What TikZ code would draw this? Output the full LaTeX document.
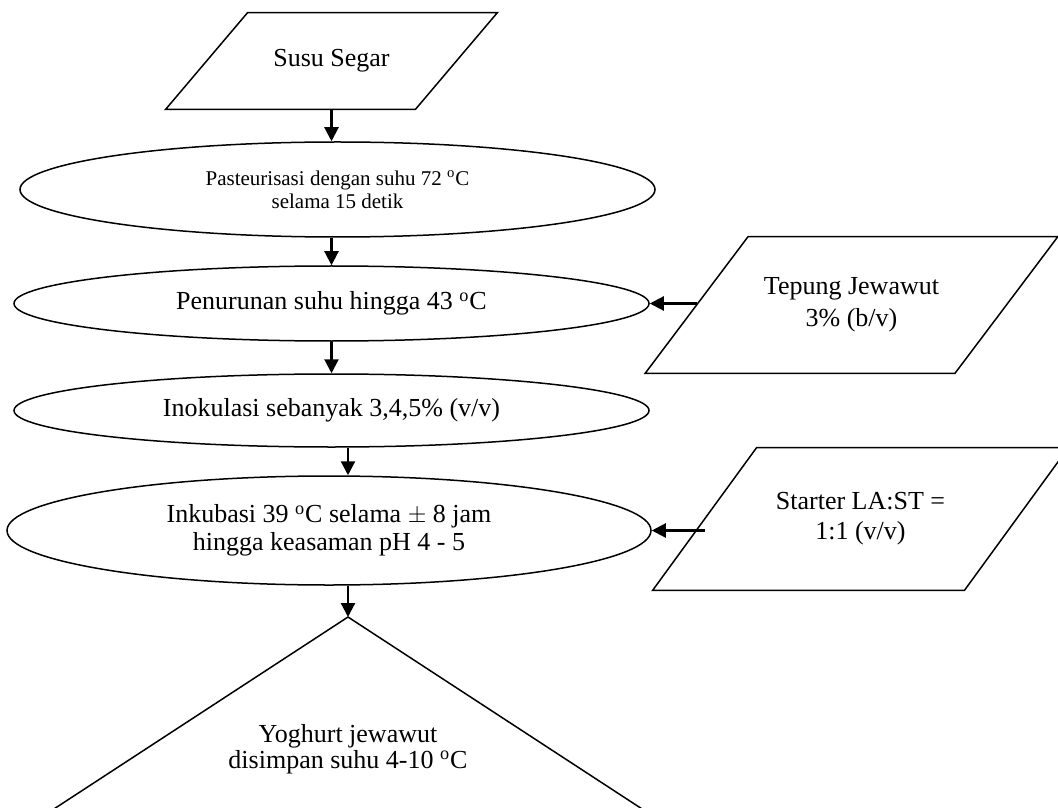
\documentclass[tikz,border=0pt]{standalone}
\usepackage{fontspec}
\setmainfont{Liberation Serif}
\usetikzlibrary{shapes.geometric}
\usetikzlibrary{arrows.meta}
\newcommand{\dC}{\textsuperscript{o}C}

\begin{document}
\begin{tikzpicture}[x=0.5pt, y=-0.5pt, >={Triangle[length=7pt,width=7pt]},
  proses/.style={ellipse, draw, line width=0.75pt, inner sep=0pt, align=center, font=\fontsize{13}{15}\selectfont},
  bahan/.style={rectangle, inner sep=0pt, align=center, font=\fontsize{13}{15}\selectfont},
  garis/.style={line width=0.75pt},
  panah/.style={->, line width=1.1pt}]
\clip (0,0) rectangle (1058,807);
\node[bahan, minimum width=124.5pt, minimum height=48pt] (susu) at (331.5,61) {Susu Segar};
\node[proses, minimum width=317.5pt, minimum height=47.5pt, font=\fontsize{10.5}{11.5}\selectfont] (pasteur) at (337.5,189.5) {Pasteurisasi dengan suhu 72 \dC\\selama 15 detik};
\node[proses, minimum width=317.5pt, minimum height=37.5pt] (penurunan) at (331.5,303.5) {Penurunan suhu hingga 43 \dC};
\node[proses, minimum width=317.5pt, minimum height=36.5pt] (inokulasi) at (331.5,410.5) {Inokulasi sebanyak 3,4,5\% (v/v)};
\node[proses, minimum width=322pt, minimum height=54.5pt, font=\fontsize{13}{14}\selectfont] (inkubasi) at (329,530.5) {Inkubasi 39 \dC{} selama $\pm$ 8 jam\\hingga keasaman pH 4 - 5};
\node[bahan, minimum width=154.5pt, minimum height=68pt, font=\fontsize{13}{16}\selectfont] (tepung) at (851.5,305) {Tepung Jewawut\\3\% (b/v)};
\node[bahan, minimum width=155.5pt, minimum height=71pt] (starter) at (860.5,519) {Starter LA:ST =\\1:1 (v/v)};
% jajaran genjang bahan
\draw[garis] ([xshift=20.5pt]susu.north west) -- ([xshift=20.5pt]susu.north east) -- ([xshift=-20.5pt]susu.south east) -- ([xshift=-20.5pt]susu.south west) -- cycle;
\draw[garis] ([xshift=25.75pt]tepung.north west) -- ([xshift=25.75pt]tepung.north east) -- ([xshift=-25.75pt]tepung.south east) -- ([xshift=-25.75pt]tepung.south west) -- cycle;
\draw[garis] ([xshift=26pt]starter.north west) -- ([xshift=26pt]starter.north east) -- ([xshift=-26pt]starter.south east) -- ([xshift=-26pt]starter.south west) -- cycle;
% wadah akhir
\coordinate (puncak) at (348,617);
\draw[garis] (puncak) -- (6.4,840) -- (689.6,840) -- cycle;
\node[align=center, font=\fontsize{13}{13}\selectfont] (yoghurt) at (348,749) {Yoghurt jewawut\\disimpan suhu 4-10 \dC};

\draw[panah] (susu.south) -- (susu.south |- pasteur.north);
\draw[panah] (pasteur.south -| susu.south) -- (susu.south |- penurunan.north);
\draw[panah] (penurunan.south) -- (inokulasi.north);
\draw[panah] (inokulasi.south -| puncak) -- (inkubasi.north -| puncak);
\draw[panah] (inkubasi.south -| puncak) -- (puncak);
\draw[panah] (tepung.west |- penurunan.east) -- (penurunan.east);
\draw[panah] (starter.west |- inkubasi.east) -- (inkubasi.east);
\end{tikzpicture}
\end{document}
